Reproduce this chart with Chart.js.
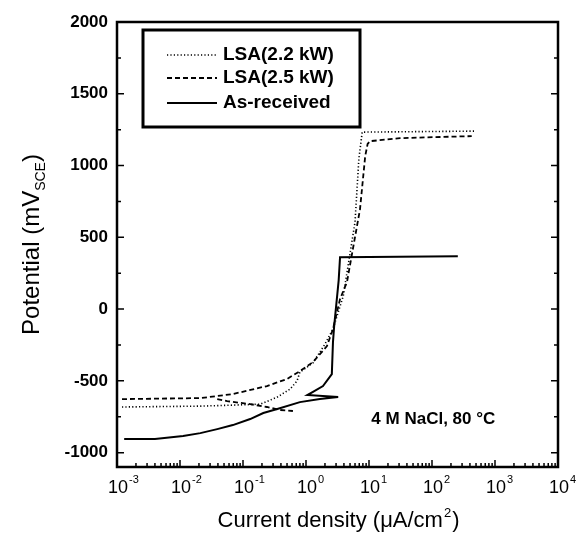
<!DOCTYPE html>
<html>
<head>
<meta charset="utf-8">
<script src="https://cdn.jsdelivr.net/npm/chart.js@4.4.1/dist/chart.umd.min.js"></script>
<style>
  html, body { margin: 0; padding: 0; background: #fff; }
  #wrap { width: 577px; height: 536px; }
</style>
</head>
<body>
<div id="wrap"><canvas id="polChart" width="577" height="536"></canvas></div>
<script>
// polarization curves, 4 M NaCl at 80 C

const xExponents = [-3, -2, -1, 0, 1, 2, 3, 4];
const yTickValues = [-1000, -500, 0, 500, 1000, 1500, 2000];

// LSA(2.2 kW) – dotted
const lsa22Current   = [0.0012, 0.021, 0.069, 0.19, 0.35, 0.56, 0.72, 0.80, 1.29, 2.0, 2.68, 3.9, 6.0, 6.9, 7.8, 31, 480];
const lsa22Potential = [-682, -676, -669, -662, -613, -557, -501, -439, -375, -244, -139, 90, 606, 1045, 1233, 1235, 1240];

// LSA(2.5 kW) – dashed (null splits off the short reverse dip)
const lsa25Current   = [0.0012, 0.021, 0.069, 0.24, 0.50, 0.80, 1.29, 2.15, 2.68, 3.47, 4.47, 7.2, 8.7, 9.5, 10.4, 31, 427, 0.039, 0.039, 0.056, 0.13, 0.24, 0.39, 0.62];
const lsa25Potential = [-627, -620, -592, -536, -487, -432, -369, -258, -139, 70, 188, 696, 1065, 1150, 1170, 1191, 1205, null, -627, -641, -662, -682, -703, -710];

// As-received – solid
const asRecCurrent   = [0.0013, 0.004, 0.0112, 0.021, 0.039, 0.069, 0.13, 0.21, 0.35, 0.80, 1.66, 3.24, 1.05, 1.27, 1.86, 2.57, 2.68, 2.8, 3.3, 3.47, 257];
const asRecPotential = [-905, -905, -884, -864, -836, -808, -766, -724, -696, -648, -627, -613, -599, -578, -536, -453, -230, -118, 200, 362, 369];

const FONT = '"Liberation Sans", Arial, sans-serif';

function toPoints(xs, ys) {
  return xs.map((x, i) => ({ x: x, y: ys[i] }));
}

// frame, inward ticks, labels, legend box and note – all drawn off the chart scales
const decorPlugin = {
  id: "decor",
  afterDatasetsDraw(chart) {
    const ctx = chart.ctx;
    const ca = chart.chartArea;
    const xs = chart.scales.x, ys = chart.scales.y;
    ctx.save();
    ctx.strokeStyle = "#000";
    ctx.fillStyle = "#000";

    // ticks
    ctx.lineWidth = 1.5;
    ctx.beginPath();
    for (const e of xExponents) {
      const base = Math.pow(10, e);
      const px = xs.getPixelForValue(base);
      ctx.moveTo(px, ca.bottom); ctx.lineTo(px, ca.bottom - 7);
      if (e < 4) {
        for (let m = 2; m <= 9; m++) {
          const mx = xs.getPixelForValue(base * m);
          ctx.moveTo(mx, ca.bottom); ctx.lineTo(mx, ca.bottom - 4);
        }
      }
    }
    for (let v = -1000; v <= 2000; v += 250) {
      const py = ys.getPixelForValue(v);
      const len = v % 500 === 0 ? 7 : 4;
      ctx.moveTo(ca.left, py); ctx.lineTo(ca.left + len, py);
      ctx.moveTo(ca.right, py); ctx.lineTo(ca.right - len, py);
    }
    ctx.stroke();

    // frame
    ctx.lineWidth = 2.5;
    ctx.strokeRect(ca.left, ca.top, ca.right - ca.left, ca.bottom - ca.top);

    // y tick labels
    ctx.font = "bold 17px " + FONT;
    ctx.textAlign = "right";
    ctx.textBaseline = "middle";
    for (const v of yTickValues) {
      ctx.fillText(String(v), ca.left - 9, ys.getPixelForValue(v));
    }

    // x tick labels 10^n
    for (const e of xExponents) {
      const px = xs.getPixelForValue(Math.pow(10, e));
      ctx.font = "18px " + FONT;
      ctx.textAlign = "center";
      ctx.textBaseline = "middle";
      ctx.fillText("10", px + 1, ca.bottom + 21);
      const w = ctx.measureText("10").width;
      ctx.font = "11px " + FONT;
      ctx.textAlign = "left";
      ctx.fillText(String(e), px + w / 2 + 2, ca.bottom + 13);
    }

    // x title
    const xt1 = "Current density (\u03bcA/cm", xt2 = "2", xt3 = ")";
    ctx.font = "22px " + FONT;
    ctx.textBaseline = "alphabetic";
    const w1 = ctx.measureText(xt1).width, w3 = ctx.measureText(xt3).width;
    ctx.font = "13px " + FONT;
    const w2 = ctx.measureText(xt2).width;
    let sx = (ca.left + ca.right) / 2 - (w1 + w2 + w3) / 2;
    const by = ca.bottom + 60;
    ctx.textAlign = "left";
    ctx.font = "22px " + FONT;
    ctx.fillText(xt1, sx, by);
    ctx.font = "13px " + FONT;
    ctx.fillText(xt2, sx + w1 + 1, by - 10);
    ctx.font = "22px " + FONT;
    ctx.fillText(xt3, sx + w1 + w2 + 2, by);

    // y title with subscript
    ctx.save();
    ctx.translate(ca.left - 86, (ca.top + ca.bottom) / 2);
    ctx.rotate(-Math.PI / 2);
    const yt1 = "Potential (mV", yt2 = "SCE", yt3 = ")";
    ctx.font = "24px " + FONT;
    const v1 = ctx.measureText(yt1).width, v3 = ctx.measureText(yt3).width;
    ctx.font = "14px " + FONT;
    const v2 = ctx.measureText(yt2).width;
    let ty = -(v1 + v2 + v3) / 2;
    ctx.textBaseline = "alphabetic";
    ctx.font = "24px " + FONT;
    ctx.fillText(yt1, ty, 8);
    ctx.font = "14px " + FONT;
    ctx.fillText(yt2, ty + v1, 14);
    ctx.font = "24px " + FONT;
    ctx.fillText(yt3, ty + v1 + v2, 8);
    ctx.restore();

    // legend box
    const bx = ca.left + 26, bY = ca.top + 8, bw = 217, bh = 97;
    ctx.lineWidth = 3;
    ctx.strokeRect(bx, bY, bw, bh);
    const rows = [25, 48, 73];
    chart.data.datasets.forEach((ds, i) => {
      const ry = bY + rows[i];
      ctx.save();
      ctx.lineWidth = ds.borderWidth;
      ctx.setLineDash(ds.borderDash || []);
      ctx.beginPath();
      ctx.moveTo(bx + 24, ry); ctx.lineTo(bx + 74, ry);
      ctx.stroke();
      ctx.restore();
      ctx.font = "bold 19px " + FONT;
      ctx.textAlign = "left";
      ctx.textBaseline = "middle";
      ctx.fillText(ds.label, bx + 80, ry);
    });

    // condition note
    ctx.font = "bold 17px " + FONT;
    ctx.textAlign = "center";
    ctx.textBaseline = "middle";
    ctx.fillText("4 M NaCl, 80 \u00b0C", xs.getPixelForValue(105), ys.getPixelForValue(-770));

    ctx.restore();
  }
};

new Chart(document.getElementById("polChart"), {
  type: "scatter",
  data: {
    datasets: [
      { label: "LSA(2.2 kW)", data: toPoints(lsa22Current, lsa22Potential), borderColor: "#000", borderWidth: 1.6, borderDash: [1.2, 2.2] },
      { label: "LSA(2.5 kW)", data: toPoints(lsa25Current, lsa25Potential), borderColor: "#000", borderWidth: 1.8, borderDash: [5, 3] },
      { label: "As-received", data: toPoints(asRecCurrent, asRecPotential), borderColor: "#000", borderWidth: 2 }
    ]
  },
  options: {
    responsive: false,
    animation: false,
    showLine: true,
    spanGaps: false,
    elements: { point: { radius: 0 }, line: { tension: 0, fill: false } },
    layout: { padding: { left: 117, right: 19, top: 22, bottom: 69 } },
    plugins: { legend: { display: false }, tooltip: { enabled: false } },
    scales: {
      x: { type: "logarithmic", min: 1e-3, max: 1e4, display: false },
      y: { type: "linear", min: -1100, max: 2000, display: false }
    }
  },
  plugins: [decorPlugin]
});
</script>
</body>
</html>
